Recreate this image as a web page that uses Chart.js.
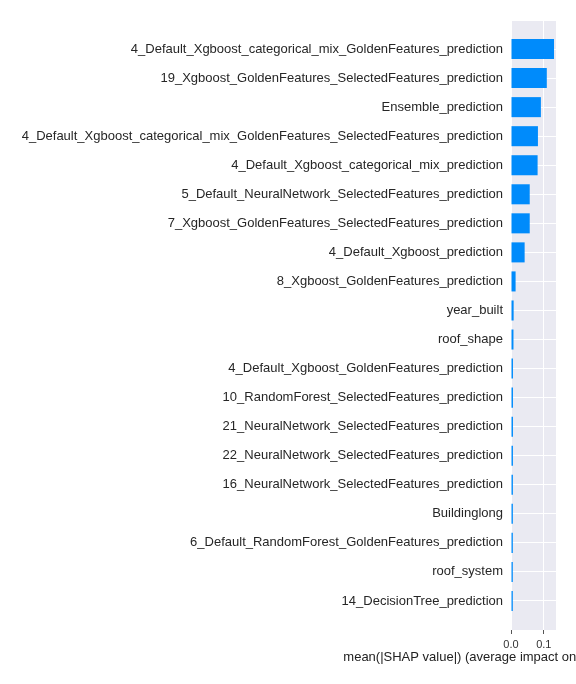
<!DOCTYPE html>
<html>
<head>
<meta charset="utf-8">
<script src="https://cdn.jsdelivr.net/npm/chart.js@4/dist/chart.umd.min.js"></script>
<style>
html,body{margin:0;padding:0;background:#fff;}
#wrap{width:576px;height:684px;position:relative;}
</style>
</head>
<body>
<div id="wrap"><canvas id="c" width="576" height="684"></canvas></div>
<script>
const features = [
  "4_Default_Xgboost_categorical_mix_GoldenFeatures_prediction",
  "19_Xgboost_GoldenFeatures_SelectedFeatures_prediction",
  "Ensemble_prediction",
  "4_Default_Xgboost_categorical_mix_GoldenFeatures_SelectedFeatures_prediction",
  "4_Default_Xgboost_categorical_mix_prediction",
  "5_Default_NeuralNetwork_SelectedFeatures_prediction",
  "7_Xgboost_GoldenFeatures_SelectedFeatures_prediction",
  "4_Default_Xgboost_prediction",
  "8_Xgboost_GoldenFeatures_prediction",
  "year_built",
  "roof_shape",
  "4_Default_Xgboost_GoldenFeatures_prediction",
  "10_RandomForest_SelectedFeatures_prediction",
  "21_NeuralNetwork_SelectedFeatures_prediction",
  "22_NeuralNetwork_SelectedFeatures_prediction",
  "16_NeuralNetwork_SelectedFeatures_prediction",
  "Buildinglong",
  "6_Default_RandomForest_GoldenFeatures_prediction",
  "roof_system",
  "14_DecisionTree_prediction"
];
const meanAbsShap = [0.131, 0.109, 0.091, 0.082, 0.081, 0.057, 0.057, 0.0415, 0.014, 0.008,
  0.0075, 0.006, 0.006, 0.006, 0.0059, 0.0058, 0.0057, 0.0056, 0.0055, 0.0055];
const xTicks = [0.0, 0.1];
const xTitle = "mean(|SHAP value|) (average impact on model output magnitude)";

// pad with empty categories so the axis has a full step of margin at both ends
const labels = [""].concat(features, [""]);
const values = [null].concat(meanAbsShap, [null]);

const bgPlugin = {
  id: 'bg',
  beforeDraw(chart) {
    const {ctx, chartArea: a} = chart;
    ctx.save();
    ctx.fillStyle = '#EAEAF2';
    ctx.fillRect(a.left, a.top, a.right - a.left, a.bottom - a.top);
    ctx.restore();
  },
  afterDraw(chart) {
    const {ctx, chartArea: a} = chart;
    ctx.save();
    ctx.fillStyle = '#222222';
    ctx.font = '13px "Liberation Sans", Arial, sans-serif';
    ctx.textAlign = 'center';
    ctx.textBaseline = 'middle';
    ctx.fillText(xTitle, (a.left + a.right) / 2, a.bottom + 27);
    ctx.restore();
  }
};

new Chart(document.getElementById('c'), {
  type: 'bar',
  data: {
    labels: labels,
    datasets: [{
      data: values,
      backgroundColor: '#008BFB',
      borderWidth: 0,
      barPercentage: 0.69,
      categoryPercentage: 1.0
    }]
  },
  plugins: [bgPlugin],
  options: {
    indexAxis: 'y',
    responsive: false,
    animation: false,
    layout: {padding: {top: 20, right: 20, bottom: 0, left: 0}},
    plugins: {legend: {display: false}, tooltip: {enabled: false}},
    scales: {
      y: {
        offset: false,
        border: {display: false},
        grid: {color: '#ffffff', lineWidth: 1, offset: false, drawTicks: false},
        ticks: {
          color: '#262626',
          padding: 8,
          autoSkip: false,
          font: {family: 'Liberation Sans, Arial, sans-serif', size: 13}
        },
        afterFit(scale) { scale.width = 511; }
      },
      x: {
        min: 0,
        max: 0.137,
        border: {display: false},
        grid: {color: '#ffffff', lineWidth: 1, tickColor: '#555555', tickLength: 4, drawTicks: true},
        ticks: {
          color: '#333333',
          padding: 4,
          font: {family: 'Liberation Sans, Arial, sans-serif', size: 11},
          callback: (v) => Number(v).toFixed(1)
        },
        afterBuildTicks(scale) { scale.ticks = xTicks.map(v => ({value: v})); },
        afterFit(scale) { scale.height = 54; }
      }
    }
  }
});
</script>
</body>
</html>
